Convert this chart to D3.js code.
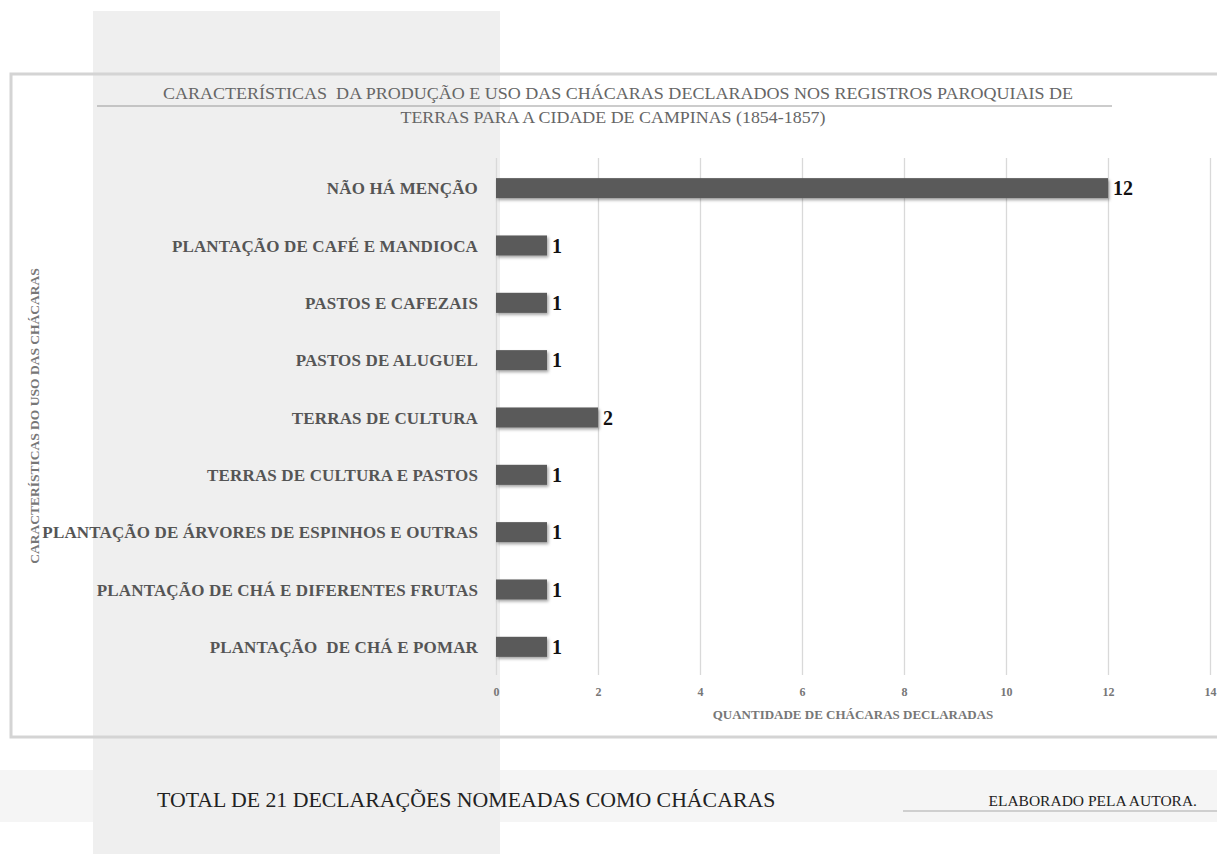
<!DOCTYPE html>
<html><head><meta charset="utf-8">
<script src="https://cdn.jsdelivr.net/npm/d3@7/dist/d3.min.js"></script>
<style>body{margin:0;background:#fff;}svg{display:block;}</style>
</head><body>
<svg id="c" width="1217" height="854"></svg>
<script>
const categories = [
  "NÃO HÁ MENÇÃO",
  "PLANTAÇÃO DE CAFÉ E MANDIOCA",
  "PASTOS E CAFEZAIS",
  "PASTOS DE ALUGUEL",
  "TERRAS DE CULTURA",
  "TERRAS DE CULTURA E PASTOS",
  "PLANTAÇÃO DE ÁRVORES DE ESPINHOS E OUTRAS",
  "PLANTAÇÃO DE CHÁ E DIFERENTES FRUTAS",
  "PLANTAÇÃO  DE CHÁ E POMAR"
];
const values = [12, 1, 1, 1, 2, 1, 1, 1, 1];
const xTicks = [0, 2, 4, 6, 8, 10, 12, 14];
const titleLines = [
  "CARACTERÍSTICAS  DA PRODUÇÃO E USO DAS CHÁCARAS DECLARADOS NOS REGISTROS PAROQUIAIS DE",
  "TERRAS PARA A CIDADE DE CAMPINAS (1854-1857)"
];
const xTitle = "QUANTIDADE DE CHÁCARAS DECLARADAS";
const yTitle = "CARACTERÍSTICAS DO USO DAS CHÁCARAS";
const footerLeft = "TOTAL DE 21 DECLARAÇÕES NOMEADAS COMO CHÁCARAS";
const footerRight = "ELABORADO PELA AUTORA.";

const svg = d3.select("#c");
const serif = "'Liberation Serif','DejaVu Serif',serif";

const defs = svg.append("defs");
const f = defs.append("filter").attr("id","sh").attr("x","-5%").attr("y","-30%").attr("width","115%").attr("height","180%");
f.append("feDropShadow").attr("dx",1.5).attr("dy",2).attr("stdDeviation",1.5).attr("flood-color","#000").attr("flood-opacity",0.35);

// footer band
svg.append("rect").attr("x",0).attr("y",770).attr("width",1217).attr("height",52).attr("fill","#f5f5f5");
// gray overlay panel
svg.append("rect").attr("x",93).attr("y",11).attr("width",407).attr("height",843).attr("fill","#efefef");
// frame
svg.append("rect").attr("x",11).attr("y",74).attr("width",1220).attr("height",663)
  .attr("fill","none").attr("stroke","#d4d4d4").attr("stroke-width",3);

// title
svg.append("text").attr("x",618).attr("y",99).attr("text-anchor","middle")
  .attr("font-family",serif).attr("font-size",17).attr("fill","#666")
  .attr("textLength",910).attr("lengthAdjust","spacingAndGlyphs").style("white-space","pre").text(titleLines[0]);
svg.append("line").attr("x1",97).attr("x2",1112).attr("y1",106).attr("y2",106).attr("stroke","#999").attr("stroke-width",1);
svg.append("text").attr("x",613).attr("y",123).attr("text-anchor","middle")
  .attr("font-family",serif).attr("font-size",17).attr("fill","#666")
  .attr("textLength",425).attr("lengthAdjust","spacingAndGlyphs").text(titleLines[1]);

const x = d3.scaleLinear().domain([0,14]).range([496,1210]);
const y = d3.scaleBand().domain(categories).range([159.5,675.5]).paddingInner(0.65).paddingOuter(0.325);

// grid
const gAxis = svg.append("g").attr("transform","translate(0,675)")
  .call(d3.axisBottom(x).tickValues(xTicks).tickSize(-517).tickPadding(12).tickFormat(d3.format("d")));
gAxis.select(".domain").remove();
gAxis.selectAll(".tick line").attr("stroke","#d9d9d9").attr("stroke-width",1.3);
gAxis.selectAll(".tick text").attr("font-family",serif).attr("font-size",12).attr("fill","#777").attr("font-weight","bold");

// bars
svg.append("g").selectAll("rect").data(values).join("rect")
  .attr("x",x(0)).attr("y",(d,i)=>y(categories[i]))
  .attr("width",d=>x(d)-x(0)).attr("height",y.bandwidth())
  .attr("fill","#5a5a5a").attr("filter","url(#sh)");

// value labels
svg.append("g").selectAll("text").data(values).join("text")
  .attr("x",d=>x(d)+5).attr("y",(d,i)=>y(categories[i])+y.bandwidth()/2+7)
  .attr("font-family",serif).attr("font-size",20).attr("font-weight","bold").attr("fill","#111")
  .text(d=>d);

// category labels
svg.append("g").selectAll("text").data(categories).join("text")
  .attr("x",478).attr("y",d=>y(d)+y.bandwidth()/2+6)
  .attr("text-anchor","end").attr("font-family",serif).attr("font-size",17).attr("font-weight","600")
  .attr("letter-spacing",0.15)
  .attr("fill","#555").style("white-space","pre").text(d=>d);

// axis titles
svg.append("text").attr("x",853).attr("y",719).attr("text-anchor","middle")
  .attr("font-family",serif).attr("font-size",13).attr("font-weight","bold").attr("fill","#777").text(xTitle);
svg.append("text").attr("transform","translate(39,416) rotate(-90)").attr("text-anchor","middle")
  .attr("font-family",serif).attr("font-size",13.5).attr("font-weight","bold").attr("fill","#777").text(yTitle);

// footer
svg.append("text").attr("x",157).attr("y",807).attr("font-family",serif).attr("font-size",21.8).attr("fill","#222").text(footerLeft);
svg.append("text").attr("x",1197).attr("y",806).attr("text-anchor","end").attr("font-family",serif).attr("font-size",15.5).attr("fill","#222").text(footerRight);
svg.append("line").attr("x1",903).attr("x2",1217).attr("y1",811).attr("y2",811).attr("stroke","#aaa").attr("stroke-width",1.2);
</script>
</body></html>
